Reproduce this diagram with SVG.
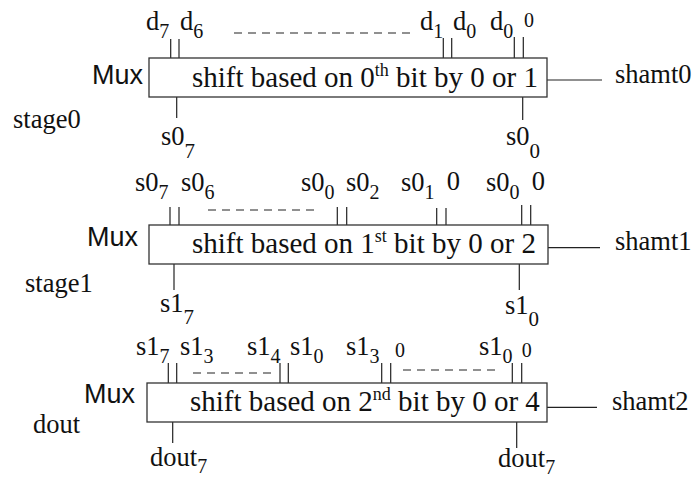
<svg xmlns="http://www.w3.org/2000/svg" width="700" height="479" viewBox="0 0 700 479">
<style>
.box{fill:#fff;stroke:#333;stroke-width:1.3}
.ln{stroke:#222;stroke-width:1.2;fill:none}
.dash{stroke:#222;stroke-width:1.2;stroke-dasharray:8 6;fill:none}
.lbl{font-family:"Liberation Serif","Times New Roman",serif;font-size:26.5px;fill:#111}
.main{font-family:"Liberation Serif","Times New Roman",serif;font-size:29px;fill:#111}
.mux{font-family:"Liberation Sans",Arial,sans-serif;font-size:27px;fill:#111}
.sub{font-size:20px}
.bsub{font-size:21px}
.sup{font-size:18px}
.sm{font-size:20px}
</style>
<rect width="700" height="479" fill="#fff"/>
<g id="connectors">
<line class="ln" x1="170.7" y1="39" x2="170.7" y2="58"/>
<line class="ln" x1="179" y1="39" x2="179" y2="58"/>
<line class="ln" x1="443.3" y1="38" x2="443.3" y2="58"/>
<line class="ln" x1="451.7" y1="38" x2="451.7" y2="58"/>
<line class="ln" x1="514.3" y1="37" x2="514.3" y2="58"/>
<line class="ln" x1="523.3" y1="37" x2="523.3" y2="58"/>
<line class="dash" x1="234" y1="33" x2="414" y2="33"/>
<line class="ln" x1="176.7" y1="97" x2="176.7" y2="118"/>
<line class="ln" x1="522.7" y1="97" x2="522.7" y2="120"/>
<line class="ln" x1="547" y1="80" x2="602" y2="80"/>
<line class="ln" x1="170" y1="207" x2="170" y2="225"/>
<line class="ln" x1="179" y1="207" x2="179" y2="225"/>
<line class="ln" x1="337.3" y1="207" x2="337.3" y2="225"/>
<line class="ln" x1="346.7" y1="207" x2="346.7" y2="225"/>
<line class="ln" x1="436.7" y1="208" x2="436.7" y2="225"/>
<line class="ln" x1="446" y1="208" x2="446" y2="225"/>
<line class="ln" x1="521.7" y1="205" x2="521.7" y2="225"/>
<line class="ln" x1="530.7" y1="205" x2="530.7" y2="225"/>
<line class="dash" x1="208" y1="210" x2="318" y2="210"/>
<line class="ln" x1="174" y1="264" x2="174" y2="290"/>
<line class="ln" x1="519.3" y1="264" x2="519.3" y2="290"/>
<line class="ln" x1="548" y1="247.7" x2="600" y2="247.7"/>
<line class="ln" x1="168.3" y1="363" x2="168.3" y2="383"/>
<line class="ln" x1="176.7" y1="363" x2="176.7" y2="383"/>
<line class="ln" x1="280" y1="363" x2="280" y2="383"/>
<line class="ln" x1="288.3" y1="363" x2="288.3" y2="383"/>
<line class="ln" x1="381.7" y1="363" x2="381.7" y2="383"/>
<line class="ln" x1="390.7" y1="363" x2="390.7" y2="383"/>
<line class="ln" x1="512.3" y1="363" x2="512.3" y2="383"/>
<line class="ln" x1="521.7" y1="363" x2="521.7" y2="383"/>
<line class="dash" x1="193" y1="373" x2="271" y2="373"/>
<line class="dash" x1="403" y1="370" x2="497" y2="370"/>
<line class="ln" x1="172.7" y1="422" x2="172.7" y2="443"/>
<line class="ln" x1="516.7" y1="422" x2="516.7" y2="448"/>
<line class="ln" x1="547" y1="407.3" x2="597" y2="407.3"/>
</g>
<g id="stage0">
<rect class="box" x="149" y="58" width="398" height="39"/>
<text class="mux" x="92" y="84">Mux</text>
<text class="main" x="192" y="87">shift based on 0<tspan class="sup" dy="-11">th</tspan><tspan dy="11"> bit by 0 or 1</tspan></text>
<text class="lbl" x="13" y="128">stage0</text>
<text class="lbl" x="615" y="83">shamt0</text>
<text class="lbl" x="146" y="30">d<tspan class="sub" dy="8">7</tspan></text>
<text class="lbl" x="180" y="30">d<tspan class="sub" dy="8">6</tspan></text>
<text class="lbl" x="420" y="30">d<tspan class="sub" dy="8">1</tspan></text>
<text class="lbl" x="453" y="30">d<tspan class="sub" dy="8">0</tspan></text>
<text class="lbl" x="490" y="30">d<tspan class="sub" dy="8">0</tspan></text>
<text class="lbl sm" x="524" y="27">0</text>
<text class="lbl" x="161" y="145">s0<tspan class="bsub" dy="13">7</tspan></text>
<text class="lbl" x="506" y="145">s0<tspan class="bsub" dy="13">0</tspan></text>
</g>
<g id="stage1">
<rect class="box" x="149" y="225" width="399" height="39"/>
<text class="mux" x="87" y="246">Mux</text>
<text class="main" x="192" y="253">shift based on 1<tspan class="sup" dy="-11">st</tspan><tspan dy="11"> bit by 0 or 2</tspan></text>
<text class="lbl" x="25" y="292">stage1</text>
<text class="lbl" x="615" y="250">shamt1</text>
<text class="lbl" x="135" y="191">s0<tspan class="sub" dy="8">7</tspan></text>
<text class="lbl" x="181" y="191">s0<tspan class="sub" dy="8">6</tspan></text>
<text class="lbl" x="301" y="191">s0<tspan class="sub" dy="8">0</tspan></text>
<text class="lbl" x="346" y="191">s0<tspan class="sub" dy="8">2</tspan></text>
<text class="lbl" x="401" y="191">s0<tspan class="sub" dy="8">1</tspan></text>
<text class="lbl" x="446.7" y="190">0</text>
<text class="lbl" x="486" y="191">s0<tspan class="sub" dy="8">0</tspan></text>
<text class="lbl" x="531.7" y="190">0</text>
<text class="lbl" x="160" y="312">s1<tspan class="bsub" dy="12">7</tspan></text>
<text class="lbl" x="505" y="314">s1<tspan class="bsub" dy="12">0</tspan></text>
</g>
<g id="stage2">
<rect class="box" x="147" y="383" width="400" height="39"/>
<text class="mux" x="84" y="403">Mux</text>
<text class="main" x="190" y="411">shift based on 2<tspan class="sup" dy="-11">nd</tspan><tspan dy="11"> bit by 0 or 4</tspan></text>
<text class="lbl" x="33" y="433">dout</text>
<text class="lbl" x="612" y="410">shamt2</text>
<text class="lbl" x="136" y="355">s1<tspan class="sub" dy="8">7</tspan></text>
<text class="lbl" x="180" y="355">s1<tspan class="sub" dy="8">3</tspan></text>
<text class="lbl" x="247" y="355">s1<tspan class="sub" dy="8">4</tspan></text>
<text class="lbl" x="290" y="355">s1<tspan class="sub" dy="8">0</tspan></text>
<text class="lbl" x="346" y="355">s1<tspan class="sub" dy="8">3</tspan></text>
<text class="lbl sm" x="395" y="357">0</text>
<text class="lbl" x="479" y="355">s1<tspan class="sub" dy="8">0</tspan></text>
<text class="lbl sm" x="521.7" y="357">0</text>
<text class="lbl" x="150" y="466">dout<tspan class="sub" dy="7">7</tspan></text>
<text class="lbl" x="498" y="467">dout<tspan class="sub" dy="7">7</tspan></text>
</g>
</svg>
